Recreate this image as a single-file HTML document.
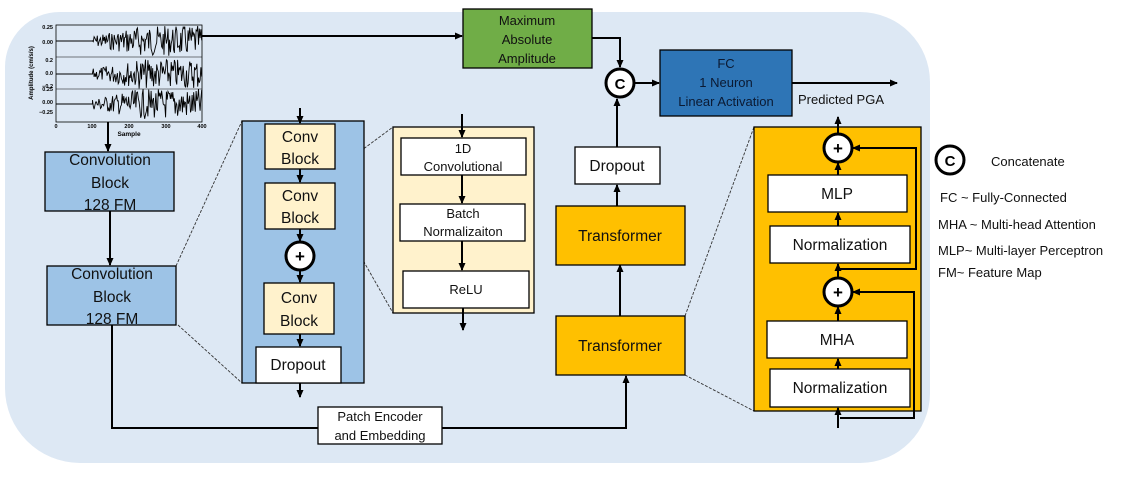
<!DOCTYPE html>
<html><head><meta charset="utf-8"><style>
html,body{margin:0;padding:0;background:#fff;}
svg{display:block;font-family:"Liberation Sans",Calibri,sans-serif;}
</style></head><body>
<svg width="1134" height="491" viewBox="0 0 1134 491" xmlns="http://www.w3.org/2000/svg">
<defs>
<marker id="a" markerWidth="8" markerHeight="8" refX="7" refY="4" orient="auto" markerUnits="userSpaceOnUse"><path d="M0,0.5 L8,4 L0,7.5 Z" fill="#000"/></marker>
</defs>
<path d="M60,12 H860 A70,70 0 0 1 930,82 V393 A70,70 0 0 1 860,463 H80 A75,75 0 0 1 5,388 V67 A55,55 0 0 1 60,12 Z" fill="#dde8f4"/>

<!-- waveform -->
<g id="wave" stroke="#000" fill="none">
<rect x="56" y="25" width="146" height="97" stroke-width="0.8"/>
<line x1="56" y1="57" x2="202" y2="57" stroke-width="0.6"/>
<line x1="56" y1="89" x2="202" y2="89" stroke-width="0.6"/>
<path id="w1" stroke-width="0.9"/><path id="w2" stroke-width="0.9"/><path id="w3" stroke-width="0.9"/>
</g>
<g font-size="5.5" font-weight="bold" fill="#000" text-anchor="end">
<text x="53" y="29">0.25</text><text x="53" y="44">0.00</text>
<text x="53" y="62">0.2</text><text x="53" y="75">0.0</text>
<text x="53" y="88">−0.2</text><text x="53" y="91">0.25</text>
<text x="53" y="104">0.00</text><text x="53" y="114">−0.25</text>
</g>
<g font-size="5.5" font-weight="bold" text-anchor="middle">
<text x="56" y="128">0</text><text x="92" y="128">100</text><text x="129" y="128">200</text><text x="166" y="128">300</text><text x="202" y="128">400</text>
<text x="129" y="136" font-size="6.5">Sample</text>
</g>
<text transform="translate(33,73) rotate(-90)" font-size="6" font-weight="bold" text-anchor="middle">Amplitude (cm/s/s)</text>

<g stroke="#000" stroke-width="2" fill="none">
<!-- main connectors -->
<line x1="202" y1="36" x2="462" y2="36" marker-end="url(#a)"/>
<line x1="108" y1="122" x2="108" y2="151" marker-end="url(#a)"/>
<line x1="110" y1="211" x2="110" y2="265" marker-end="url(#a)"/>
<polyline points="112,325 112,428 318,428"/>
<polyline points="442,428 626,428 626,376" marker-end="url(#a)"/>
<polyline points="592,38 620,38 620,67" marker-end="url(#a)"/>
<line x1="635" y1="83" x2="659" y2="83" marker-end="url(#a)"/>
<line x1="792" y1="83" x2="897" y2="83" marker-end="url(#a)"/>
<line x1="617" y1="147" x2="617" y2="99" marker-end="url(#a)"/>
<line x1="617" y1="206" x2="617" y2="185" marker-end="url(#a)"/>
<line x1="620" y1="316" x2="620" y2="265" marker-end="url(#a)"/>
</g>

<!-- dashed zoom lines -->
<g stroke="#333" stroke-width="0.9" stroke-dasharray="3,1.5">
<line x1="176" y1="266" x2="242" y2="121"/><line x1="178" y1="325" x2="242" y2="383"/>
<line x1="335" y1="170" x2="393" y2="127"/><line x1="339" y1="218" x2="393" y2="313"/>
<line x1="685" y1="316" x2="754" y2="127"/><line x1="685" y1="375" x2="754" y2="411"/>
</g>

<!-- left conv blocks -->
<g stroke="#000" stroke-width="1.3">
<rect x="45" y="152" width="129" height="59" fill="#9dc3e6"/>
<rect x="47" y="266" width="129" height="59" fill="#9dc3e6"/>
<rect x="242" y="121" width="122" height="262" fill="#9dc3e6"/>
<rect x="265" y="124" width="70" height="45" fill="#fff2cc"/>
<rect x="265" y="183" width="70" height="46" fill="#fff2cc"/>
<rect x="264" y="283" width="70" height="51" fill="#fff2cc"/>
<rect x="256" y="347" width="85" height="36" fill="#fff"/>
<rect x="393" y="127" width="141" height="186" fill="#fff2cc"/>
<rect x="401" y="138" width="125" height="37" fill="#fff"/>
<rect x="400" y="204" width="125" height="37" fill="#fff"/>
<rect x="403" y="271" width="126" height="37" fill="#fff"/>
<rect x="318" y="407" width="124" height="37" fill="#fff"/>
<rect x="463" y="9" width="129" height="59" fill="#70ad47"/>
<rect x="660" y="50" width="132" height="66" fill="#2e75b6"/>
<rect x="575" y="147" width="85" height="37" fill="#fff"/>
<rect x="556" y="206" width="129" height="59" fill="#ffc000"/>
<rect x="556" y="316" width="129" height="59" fill="#ffc000"/>
<rect x="754" y="127" width="167" height="284" fill="#ffc000"/>
<rect x="768" y="175" width="139" height="37" fill="#fff"/>
<rect x="770" y="226" width="140" height="37" fill="#fff"/>
<rect x="767" y="321" width="140" height="37" fill="#fff"/>
<rect x="770" y="369" width="140" height="38" fill="#fff"/>
</g>

<g stroke="#000" stroke-width="2" fill="none">
<line x1="300" y1="108" x2="300" y2="123" marker-end="url(#a)"/>
<line x1="300" y1="169" x2="300" y2="182" marker-end="url(#a)"/>
<line x1="300" y1="229" x2="300" y2="241" marker-end="url(#a)"/>
<line x1="300" y1="270" x2="300" y2="282" marker-end="url(#a)"/>
<line x1="300" y1="334" x2="300" y2="346" marker-end="url(#a)"/>
<line x1="300" y1="383" x2="300" y2="397" marker-end="url(#a)"/>
<line x1="462" y1="114" x2="462" y2="137" marker-end="url(#a)"/>
<line x1="462" y1="175" x2="462" y2="203" marker-end="url(#a)"/>
<line x1="462" y1="241" x2="462" y2="270" marker-end="url(#a)"/>
<line x1="463" y1="308" x2="463" y2="330" marker-end="url(#a)"/>
<line x1="838" y1="134" x2="838" y2="117" marker-end="url(#a)"/>
<line x1="838" y1="175" x2="838" y2="163" marker-end="url(#a)"/>
<line x1="838" y1="226" x2="838" y2="213" marker-end="url(#a)"/>
<line x1="838" y1="278" x2="838" y2="264" marker-end="url(#a)"/>
<line x1="838" y1="321" x2="838" y2="307" marker-end="url(#a)"/>
<line x1="838" y1="369" x2="838" y2="359" marker-end="url(#a)"/>
<line x1="838" y1="428" x2="838" y2="408" marker-end="url(#a)"/>
<polyline points="840,269 916,269 916,148 853,148" marker-end="url(#a)"/>
<polyline points="840,418 914,418 914,292 853,292" marker-end="url(#a)"/>
</g>

<g stroke="#000" stroke-width="3" fill="#fff">
<circle cx="300" cy="256" r="14"/>
<circle cx="620" cy="83" r="14"/>
<circle cx="838" cy="148" r="14"/>
<circle cx="838" cy="292" r="14"/>
<circle cx="950" cy="160" r="14"/>
</g>
<g font-weight="bold" text-anchor="middle" font-size="17">
<text x="300" y="262">+</text><text x="838" y="154">+</text><text x="838" y="298">+</text>
<text x="620" y="89" font-size="15">C</text><text x="950" y="166" font-size="15">C</text>
</g>

<g text-anchor="middle" fill="#111">
<g font-size="15.5">
<text x="110" y="165">Convolution</text><text x="110" y="188">Block</text><text x="110" y="210">128 FM</text>
<text x="112" y="279">Convolution</text><text x="112" y="302">Block</text><text x="112" y="324">128 FM</text>
<text x="300" y="142">Conv</text><text x="300" y="164">Block</text>
<text x="300" y="201">Conv</text><text x="300" y="223">Block</text>
<text x="299" y="303">Conv</text><text x="299" y="326">Block</text>
<text x="298" y="370">Dropout</text>
<text x="617" y="171">Dropout</text>
<text x="620" y="241">Transformer</text>
<text x="620" y="351">Transformer</text>
<text x="837" y="199">MLP</text>
<text x="840" y="250">Normalization</text>
<text x="837" y="345">MHA</text>
<text x="840" y="393">Normalization</text>
</g>
<g font-size="13">
<text x="463" y="153">1D</text><text x="463" y="171">Convolutional</text>
<text x="463" y="218">Batch</text><text x="463" y="236">Normalizaiton</text>
<text x="466" y="294">ReLU</text>
<text x="380" y="421">Patch Encoder</text><text x="380" y="440">and Embedding</text>
<text x="527" y="25">Maximum</text><text x="527" y="44">Absolute</text><text x="527" y="63">Amplitude</text>
<text x="726" y="68" fill="#0b1a33">FC</text><text x="726" y="87" fill="#0b1a33">1 Neuron</text><text x="726" y="106" fill="#0b1a33">Linear Activation</text>
</g>
</g>
<g font-size="13" fill="#111">
<text x="798" y="104">Predicted PGA</text>
<text x="991" y="166">Concatenate</text>
<text x="940" y="202">FC ~ Fully-Connected</text>
<text x="938" y="229">MHA ~ Multi-head Attention</text>
<text x="938" y="255">MLP~ Multi-layer Perceptron</text>
<text x="938" y="277">FM~ Feature Map</text>
</g>
<script>
(function(){
var s=7;function r(){s=(s*9301+49297)%233280;return s/233280-0.5;}
function mk(id,y0,amp,start){var d="M56,"+y0+" L"+(56+start*0.365)+","+y0;
for(var x=start;x<=400;x+=2.2){var env=Math.min(1,0.35+(x-start)/200);d+=" L"+(56+x*0.365).toFixed(1)+","+(y0+r()*2*amp*env).toFixed(1);}
document.getElementById(id).setAttribute("d",d);}
mk("w1",41,15,100);mk("w2",74,15,100);mk("w3",104,15,100);
})();
</script>
</svg>
</body></html>
